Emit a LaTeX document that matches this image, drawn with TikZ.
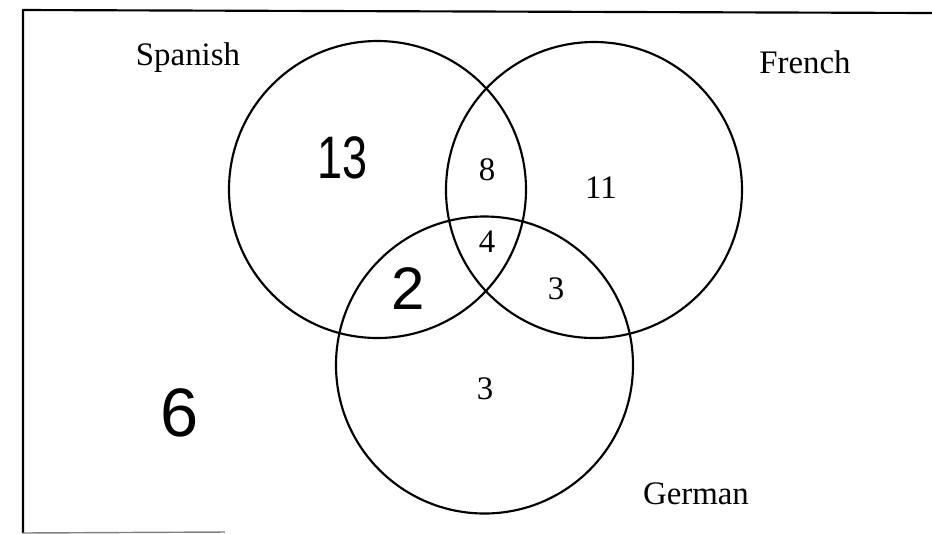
\documentclass[tikz,border=0pt]{standalone}
\usepackage{fontspec}
\setmainfont{Liberation Serif}
\setsansfont{Liberation Sans}
\usepackage{tikz}

\begin{document}
\begin{tikzpicture}[x=0.35pt,y=-0.35pt,line join=round]
  \useasboundingbox (0,0) rectangle (932,533);
  \coordinate (S) at (377.5,189.5);
  \coordinate (F) at (594.0,190.0);
  \coordinate (G) at (484.5,365.0);
  \coordinate (BL) at (23.0,10.0);
  \coordinate (BR) at (932.0,13.0);
  \coordinate (BB) at (23.0,533.0);
  \coordinate (BE) at (225.0,532.0);
  \draw[line width=0.75pt] (BR) -- (BL) -- (BB);
  \draw[line width=0.5pt,gray] (BB) -- (BE);
  \draw[line width=0.75pt] (S) circle[radius=148.5];
  \draw[line width=0.75pt] (F) circle[radius=148.0];
  \draw[line width=0.75pt] (G) circle[radius=148.5];
  \node[font=\fontsize{11.5}{13}\selectfont] (spanish) at (188.0,58.0) {Spanish};
  \node[font=\fontsize{11.5}{13}\selectfont] (french) at (805.0,62.0) {French};
  \node[font=\fontsize{11.5}{13}\selectfont] (german) at (696.0,494.0) {German};
  \node[font=\fontsize{11.5}{13}\selectfont] (nSF) at (487.0,170.0) {8};
  \node[font=\fontsize{11.5}{13}\selectfont] (nF) at (601.0,188.0) {11};
  \node[font=\fontsize{11.5}{13}\selectfont] (nSFG) at (487.0,242.0) {4};
  \node[font=\fontsize{11.5}{13}\selectfont] (nFG) at (556.0,289.0) {3};
  \node[font=\fontsize{11.5}{13}\selectfont] (nG) at (485.0,389.0) {3};
  \node[font=\sffamily\fontsize{21}{22}\selectfont,xscale=0.75] (nS) at (343.0,158.0) {13};
  \node[font=\sffamily\fontsize{21}{22}\selectfont] (nSG) at (408.0,289.0) {2};
  \node[font=\sffamily\fontsize{24}{25}\selectfont] (nOut) at (180.0,413.0) {6};
\end{tikzpicture}
\end{document}
